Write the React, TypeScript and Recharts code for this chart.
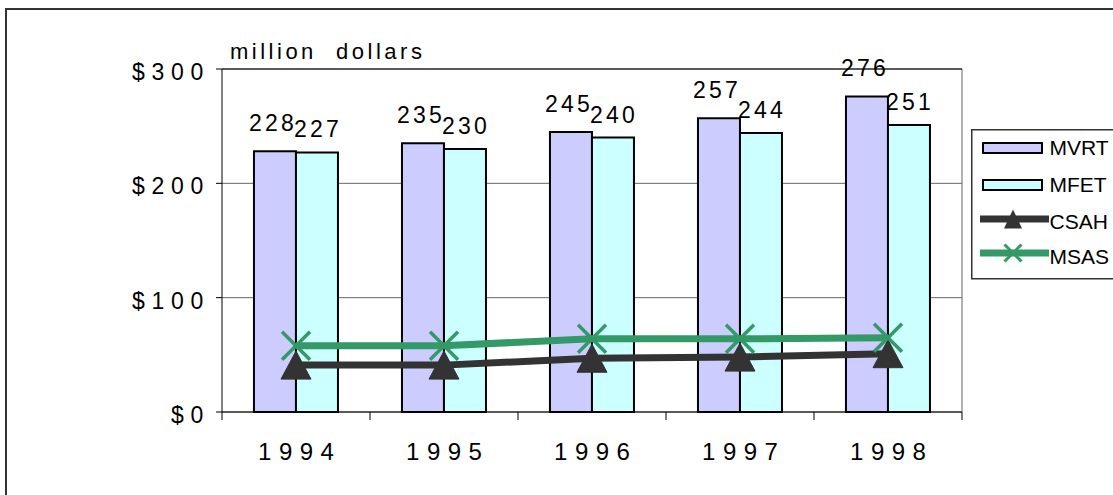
import React from 'react';
import {
  ComposedChart,
  Bar,
  Line,
  XAxis,
  YAxis,
  CartesianGrid,
  LabelList,
  Legend,
  ReferenceLine,
} from 'recharts';

const years = ['1994', '1995', '1996', '1997', '1998'];
const mvrt = [228, 235, 245, 257, 276];
const mfet = [227, 230, 240, 244, 251];
const csah = [41, 41, 47, 48, 51];
const msas = [58, 58, 64, 64, 65];
const yTicks = [0, 100, 200, 300];

const FONT = '"Liberation Sans", Arial, Helvetica, sans-serif';
const MVRT_FILL = '#CCCCFF';
const MFET_FILL = '#CCFFFF';
const CSAH_COLOR = '#333333';
const MSAS_COLOR = '#339966';

const data = years.map((year, i) => ({
  year,
  MVRT: mvrt[i],
  MFET: mfet[i],
  CSAH: csah[i],
  MSAS: msas[i],
}));

const YTick = (props: any) => {
  const { x, y, payload } = props;
  return (
    <text
      x={x}
      y={y}
      dy={11}
      textAnchor="end"
      fontSize={23}
      fontFamily={FONT}
      fill="#000"
      style={{ letterSpacing: '6.7px' }}
    >
      {`$${payload.value}`}
    </text>
  );
};

const XTick = (props: any) => {
  const { x, y, payload, index, visibleTicksCount, width } = props;
  const half =
    payload && typeof payload.offset === 'number' && payload.offset > 0
      ? payload.offset
      : width / visibleTicksCount / 2;
  const ls = 7.5;
  return (
    <g>
      <line x1={x - half} x2={x - half} y1={y} y2={y + 8} stroke="#000" strokeWidth={1} />
      {index === visibleTicksCount - 1 && (
        <line x1={x + half} x2={x + half} y1={y} y2={y + 8} stroke="#000" strokeWidth={1} />
      )}
      <text
        x={x + ls / 2}
        y={y + 48}
        textAnchor="middle"
        fontSize={24}
        fontFamily={FONT}
        fill="#000"
        style={{ letterSpacing: `${ls}px` }}
      >
        {payload.value}
      </text>
    </g>
  );
};

const makeBarLabel = (lift: number, shift: number) => (props: any) => {
  const { x, y, width, value } = props;
  return (
    <text
      x={x + width / 2 + shift}
      y={y - lift}
      textAnchor="middle"
      fontSize={23}
      fontFamily={FONT}
      fill="#000"
      style={{ letterSpacing: '3.2px' }}
    >
      {value}
    </text>
  );
};

const MvrtLabel = makeBarLabel(20, -2);
const MfetLabel = makeBarLabel(15, 1);

const TriangleDot = (props: any) => {
  const { cx, cy, index } = props;
  if (cx == null || cy == null) return <g key={index} />;
  return (
    <path
      key={`tri-${index}`}
      d={`M${cx},${cy - 14} L${cx + 15},${cy + 14} L${cx - 15},${cy + 14} Z`}
      fill={CSAH_COLOR}
      stroke={CSAH_COLOR}
      strokeWidth={1}
    />
  );
};

const CrossDot = (props: any) => {
  const { cx, cy, index } = props;
  if (cx == null || cy == null) return <g key={index} />;
  return (
    <g key={`x-${index}`}>
      <line x1={cx - 14} y1={cy - 14} x2={cx + 14} y2={cy + 14} stroke={MSAS_COLOR} strokeWidth={3.5} />
      <line x1={cx - 14} y1={cy + 14} x2={cx + 14} y2={cy - 14} stroke={MSAS_COLOR} strokeWidth={3.5} />
    </g>
  );
};

const LegendBox = () => {
  const textProps = {
    x: 78.5,
    fontSize: 21,
    fontFamily: FONT,
    fill: '#000',
  };
  return (
    <svg width={142} height={152} style={{ display: 'block', overflow: 'hidden' }}>
      <rect x={0.75} y={0.75} width={170} height={149} fill="#fff" stroke="#333" strokeWidth={1.5} />
      <rect x={12} y={14} width={59} height={10} fill={MVRT_FILL} stroke="#000" strokeWidth={2} />
      <text {...textProps} y={26}>MVRT</text>
      <rect x={12} y={51} width={59} height={10} fill={MFET_FILL} stroke="#000" strokeWidth={2} />
      <text {...textProps} y={63}>MFET</text>
      <line x1={9} x2={78} y1={90} y2={90} stroke={CSAH_COLOR} strokeWidth={7} />
      <path d="M42,80.5 L51,99.5 L33,99.5 Z" fill={CSAH_COLOR} />
      <text {...textProps} y={100}>CSAH</text>
      <line x1={9} x2={78} y1={124} y2={124} stroke={MSAS_COLOR} strokeWidth={7} />
      <line x1={33.5} y1={115.5} x2={50.5} y2={132.5} stroke={MSAS_COLOR} strokeWidth={3} />
      <line x1={33.5} y1={132.5} x2={50.5} y2={115.5} stroke={MSAS_COLOR} strokeWidth={3} />
      <text {...textProps} y={135}>MSAS</text>
    </svg>
  );
};

export default function App() {
  return (
    <div
      style={{
        position: 'absolute',
        left: 0,
        top: 0,
        width: 1113,
        height: 495,
        background: '#fff',
        overflow: 'hidden',
      }}
    >
      <ComposedChart
        width={1113}
        height={495}
        data={data}
        margin={{ top: 69, right: 151, bottom: 23, left: 0 }}
        barCategoryGap="21.6%"
        barGap={0}
      >
        <CartesianGrid
          stroke="#666"
          strokeWidth={1}
          verticalCoordinatesGenerator={(p: any) =>
            p && p.offset ? [p.offset.left + p.offset.width] : []
          }
        />
        <XAxis
          dataKey="year"
          height={60}
          tickLine={false}
          tickSize={0}
          tickMargin={0}
          axisLine={{ stroke: '#000', strokeWidth: 1 }}
          tick={<XTick />}
          interval={0}
        />
        <YAxis
          width={222}
          domain={[0, 300]}
          ticks={yTicks}
          interval={0}
          tickSize={6}
          tickMargin={6}
          tickLine={{ stroke: '#000', strokeWidth: 1 }}
          axisLine={{ stroke: '#000', strokeWidth: 1 }}
          tick={<YTick />}
        />
        <ReferenceLine y={300} stroke="#000" strokeWidth={1} />
        <Legend
          layout="vertical"
          align="center"
          verticalAlign="middle"
          wrapperStyle={{ left: 971, top: 129, width: 142, height: 152 }}
          content={() => <LegendBox />}
        />
        <Bar dataKey="MVRT" fill={MVRT_FILL} stroke="#000" strokeWidth={2} isAnimationActive={false}>
          <LabelList dataKey="MVRT" content={MvrtLabel} />
        </Bar>
        <Bar dataKey="MFET" fill={MFET_FILL} stroke="#000" strokeWidth={2} isAnimationActive={false}>
          <LabelList dataKey="MFET" content={MfetLabel} />
        </Bar>
        <Line
          dataKey="CSAH"
          type="linear"
          stroke={CSAH_COLOR}
          strokeWidth={7}
          dot={TriangleDot}
          activeDot={false}
          isAnimationActive={false}
        />
        <Line
          dataKey="MSAS"
          type="linear"
          stroke={MSAS_COLOR}
          strokeWidth={7}
          dot={CrossDot}
          activeDot={false}
          isAnimationActive={false}
        />
      </ComposedChart>
      <svg
        width={1113}
        height={495}
        style={{ position: 'absolute', left: 0, top: 0, pointerEvents: 'none' }}
      >
        <line x1={5} x2={1113} y1={9} y2={9} stroke="#333" strokeWidth={2} />
        <line x1={6} x2={6} y1={8} y2={495} stroke="#333" strokeWidth={2} />
        <text
          x={230}
          y={59}
          fontSize={22}
          fontFamily={FONT}
          fill="#000"
          style={{ letterSpacing: '3.5px', whiteSpace: 'pre' }}
          xmlSpace="preserve"
        >
          {'million  dollars'}
        </text>
      </svg>
    </div>
  );
}
